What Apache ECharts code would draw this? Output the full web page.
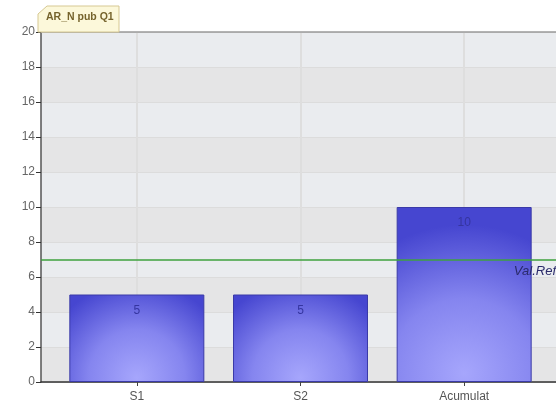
<!DOCTYPE html>
<html>
<head>
<meta charset="utf-8">
<script src="https://cdn.jsdelivr.net/npm/echarts@6/dist/echarts.min.js"></script>
<style>html,body{margin:0;padding:0;background:#fff}#c{width:556px;height:412px}</style>
</head>
<body>
<div id="c"></div>
<script>
const titleText = 'AR_N pub Q1';
const categories = ['S1', 'S2', 'Acumulat'];
const values = [5, 5, 10];
const refValue = 7;
const refLabel = 'Val.Ref';
const yMin = 0, yMax = 20, yStep = 2;

const chart = echarts.init(document.getElementById('c'));
const barColor = {
  type: 'radial', x: 0.5, y: 0.95, r: 1.1,
  colorStops: [
    {offset: 0, color: '#a6a6fc'},
    {offset: 0.5, color: '#8585ef'},
    {offset: 1, color: '#4646d0'}
  ]
};
chart.setOption({
  animation: false,
  backgroundColor: '#ffffff',
  grid: [
    {left: 41, right: 0, top: 32, bottom: 30, show: true, backgroundColor: 'transparent', borderWidth: 0},
    {left: 55, right: 10, top: 32, bottom: 30, show: false}
  ],
  xAxis: [
    {gridIndex: 0, type: 'value', min: 0, max: 1, axisLabel: {show: false}, axisTick: {show: false}, splitLine: {show: false},
     axisLine: {show: true, lineStyle: {color: '#333', width: 1.5}}},
    {gridIndex: 1, type: 'category', data: categories, boundaryGap: true,
     axisLine: {show: false}, axisTick: {show: true, alignWithLabel: true, length: 4, lineStyle: {color: '#444'}},
     axisLabel: {color: '#555', fontSize: 12, fontFamily: 'Arial, Liberation Sans, sans-serif', margin: 9},
     splitLine: {show: false}}
  ],
  yAxis: [
    {gridIndex: 0, type: 'value', min: yMin, max: yMax, interval: yStep,
     axisLine: {show: true, lineStyle: {color: '#555', width: 1.5}},
     axisTick: {show: true, length: 5, lineStyle: {color: '#333'}},
     axisLabel: {color: '#666', fontSize: 12, fontFamily: 'Arial, Liberation Sans, sans-serif', margin: 6},
     splitLine: {show: true, lineStyle: {color: '#dcdcdc', width: 1}},
     splitArea: {show: true, areaStyle: {color: ['#e5e5e6', '#eaecef']}}},
    {gridIndex: 1, type: 'value', min: yMin, max: yMax, interval: yStep, show: false}
  ],
  graphic: [
    {type: 'line', shape: {x1: 41, y1: 32, x2: 556, y2: 32}, style: {stroke: '#9a9a9a', lineWidth: 1.5}, z: 50},
    {type: 'polygon', shape: {points: [[38, 32], [38, 14], [47, 6], [119, 6], [119, 32]]},
     style: {fill: '#fcf8da', stroke: '#d6c893', lineWidth: 1}, z: 60},
    {type: 'text', left: 46, top: 12, style: {text: titleText, fill: '#75632c', font: 'bold 10.5px Arial, Liberation Sans, sans-serif'}, z: 61}
  ],
  series: [
    {type: 'line', xAxisIndex: 1, yAxisIndex: 1, data: [], z: 1, silent: true,
     markLine: {silent: true, symbol: 'none', z: 1, label: {show: false},
       lineStyle: {color: '#dedede', width: 2, type: 'solid'},
       data: categories.map(c => ({xAxis: c}))}},
    {type: 'bar', xAxisIndex: 1, yAxisIndex: 1, data: values, barWidth: 135, z: 3,
     itemStyle: {color: barColor, borderColor: '#3a3aa8', borderWidth: 1},
     label: {show: true, position: 'insideTop', distance: 10, color: '#3535a0', fontSize: 12, fontFamily: 'Arial, Liberation Sans, sans-serif'}},
    {type: 'line', xAxisIndex: 0, yAxisIndex: 0, data: [[0, refValue]], showSymbol: false, lineStyle: {opacity: 0}, z: 5,
     markLine: {silent: true, symbol: 'none', z: 5,
       lineStyle: {color: '#3ea23e', width: 1.5, type: 'solid'},
       label: {show: true, formatter: refLabel, position: 'insideEndBottom', distance: [0, 5],
         color: '#2a2a6a', fontStyle: 'italic', fontSize: 13, fontFamily: 'Arial, Liberation Sans, sans-serif'},
       data: [{yAxis: refValue}]}}
  ]
});
</script>
</body>
</html>
